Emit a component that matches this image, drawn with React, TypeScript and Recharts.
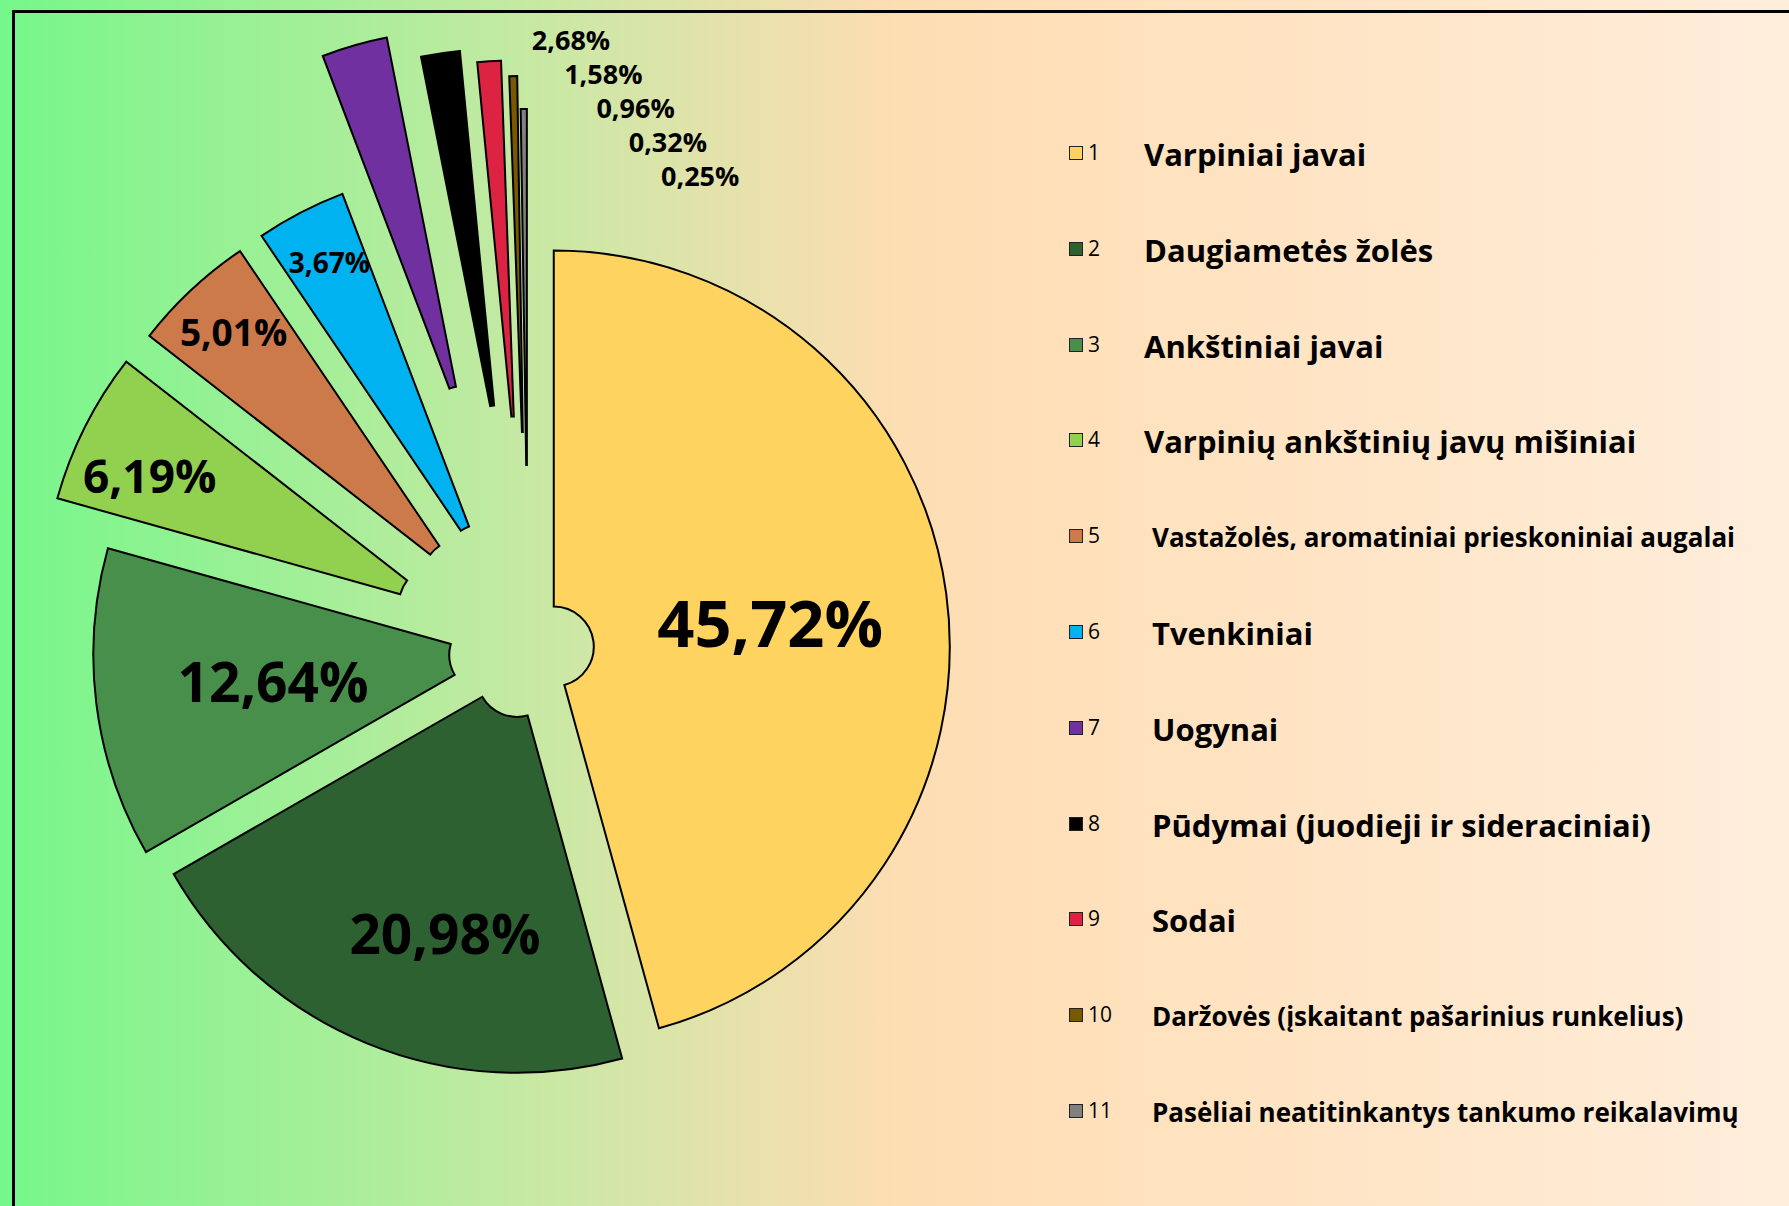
import { Cell, Legend, Pie, PieChart } from "recharts";

const CODES = ["1", "2", "3", "4", "5", "6", "7", "8", "9", "10", "11"];
const CATEGORIES = [
  "Varpiniai javai",
  "Daugiametės žolės",
  "Ankštiniai javai",
  "Varpinių ankštinių javų mišiniai",
  "Vastažolės, aromatiniai prieskoniniai augalai",
  "Tvenkiniai",
  "Uogynai",
  "Pūdymai (juodieji ir sideraciniai)",
  "Sodai",
  "Daržovės (įskaitant pašarinius runkelius)",
  "Pasėliai neatitinkantys tankumo reikalavimų",
];
const SHARES = [45.72, 20.98, 12.64, 6.19, 5.01, 3.67, 2.68, 1.58, 0.96, 0.32, 0.25];
const COLORS = [
  "#FFD35F",
  "#2E6132",
  "#478F4A",
  "#92D050",
  "#CD7A4A",
  "#00B2F0",
  "#7030A0",
  "#000000",
  "#DC2341",
  "#7A5800",
  "#808080",
];

const data = CATEGORIES.map((name, i) => ({ code: CODES[i], name, value: SHARES[i] }));

const W = 1789;
const H = 1206;
const FONT = "'Open Sans', 'Noto Sans', sans-serif";

// pie geometry
const CX = 528;
const CY = 650;
const R_OUT = 396;
const R_IN = 40;
// how far each slice is pulled out of the pie
const EXPLODE = [26, 29, 39, 100, 97, 97, 233, 207, 194, 178, 145];

// value label styling
const LABEL_FONT = [65, 55, 55, 46, 37, 28, 27, 27, 27, 27, 27];
const LABEL_RADIUS = [0.55, 0.67, 0.55, 0.8, 0.85, 0.855];
const LABEL_TURN = [1.2, -6.6, 0.3, -2.6, 0.4, 0.4];

const total = SHARES.reduce((a, b) => a + b, 0);

function midAngleCw(i: number) {
  const before = SHARES.slice(0, i).reduce((a, b) => a + b, 0);
  return ((before + SHARES[i] / 2) / total) * 360;
}

const fmt = (v: number) => `${v.toFixed(2).replace(".", ",")}%`;

function makeLabel(target: number) {
  return (p: any) => {
    if (p.index !== target) return null;
    let x: number;
    let y: number;
    if (target < 6) {
      const a = ((p.midAngle - LABEL_TURN[target]) * Math.PI) / 180;
      const r = p.outerRadius * LABEL_RADIUS[target];
      x = p.cx + r * Math.cos(a);
      y = p.cy - r * Math.sin(a);
    } else {
      // tiny slices: labels stacked as a staircase above the pie
      const k = target - 6;
      x = 571 + k * 32.3;
      y = 39 + k * 34;
    }
    return (
      <text
        x={x}
        y={y}
        textAnchor="middle"
        dominantBaseline="central"
        fontFamily={FONT}
        fontWeight={700}
        fontSize={LABEL_FONT[target]}
        fill="#000"
      >
        {fmt(SHARES[target])}
      </text>
    );
  };
}

function LegendList() {
  return (
    <div style={{ position: "relative", width: 729, height: H, fontFamily: FONT, color: "#000" }}>
      {CATEGORIES.map((name, i) => {
        const small = i === 4 || i === 9 || i === 10;
        return (
          <div
            key={name}
            style={{
              position: "absolute",
              left: 0,
              top: 154 + i * 95.8 - 25,
              height: 50,
              display: "flex",
              alignItems: "center",
              whiteSpace: "nowrap",
            }}
          >
            <span
              style={{
                position: "absolute",
                left: 9,
                top: 17,
                width: 12,
                height: 12,
                background: COLORS[i],
                border: "1.5px solid #222",
              }}
            />
            <span style={{ position: "absolute", left: 28, top: 10, fontSize: 21, lineHeight: "26px" }}>
              {CODES[i]}
            </span>
            <span
              style={{
                position: "absolute",
                left: i < 4 ? 84 : 92,
                top: 0,
                lineHeight: "50px",
                fontSize: small ? 26 : 31,
                fontWeight: 700,
              }}
            >
              {name}
            </span>
          </div>
        );
      })}
    </div>
  );
}

export default function App() {
  return (
    <div
      style={{
        position: "absolute",
        left: 0,
        top: 0,
        width: W,
        height: H,
        overflow: "hidden",
        background:
          "linear-gradient(to right, #76F78A 0%, #A2EF98 17%, #D0E7A6 33%, #E3E2AB 40%, #FDDDB2 50%, #FFE0BA 60%, #FFE8CE 85%, #FFEEDC 100%)",
      }}
    >
      <div
        style={{
          position: "absolute",
          left: 12,
          top: 10,
          right: -10,
          bottom: -10,
          borderLeft: "3px solid #000",
          borderTop: "3px solid #000",
        }}
      />
      <div style={{ position: "absolute", left: 0, top: 0 }}>
        <PieChart width={W} height={H} margin={{ top: 0, right: 0, bottom: 0, left: 0 }}>
          {SHARES.map((_, target) => {
            const m = (midAngleCw(target) * Math.PI) / 180;
            const e = EXPLODE[target];
            return (
              <Pie
                key={target}
                data={data}
                dataKey="value"
                nameKey="name"
                cx={CX + e * Math.sin(m)}
                cy={CY - e * Math.cos(m)}
                innerRadius={R_IN}
                outerRadius={R_OUT}
                startAngle={90}
                endAngle={-270}
                label={makeLabel(target)}
                labelLine={false}
                legendType="none"
                isAnimationActive={false}
              >
                {data.map((d, i) => (
                  <Cell
                    key={d.code}
                    fill={i === target ? COLORS[i] : "none"}
                    stroke={i === target ? "#000" : "none"}
                    strokeWidth={2}
                  />
                ))}
              </Pie>
            );
          })}
          <Legend
            content={<LegendList />}
            layout="vertical"
            align="right"
            verticalAlign="top"
            wrapperStyle={{ position: "absolute", left: 1060, top: 0, width: 729, height: H }}
          />
        </PieChart>
      </div>
    </div>
  );
}
